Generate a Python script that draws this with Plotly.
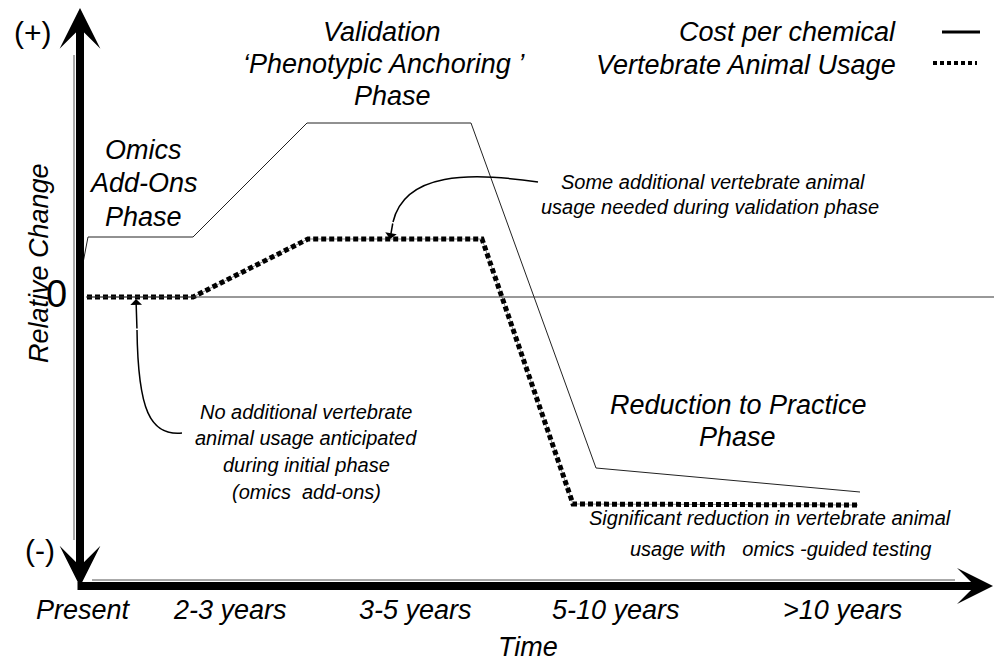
import plotly.graph_objects as go

# ---- data (x: horizontal position along time axis, y: relative change, 0 = baseline) ----
cost_x = [83, 88, 193, 307, 471, 596, 860]
cost_y = [34, 60, 60, 174, 174, -171, -195]
animal_x = [87, 193, 308, 482, 573, 858]
animal_y = [0, 0, 58, 58, -207, -208]
tick_labels = ["Present", "2-3 years", "3-5 years", "5-10 years", ">10 years"]
tick_pos = [83, 230, 415, 616, 842]
legend_names = ["Cost per chemical", "Vertebrate Animal Usage"]

FONT = "Liberation Sans, Arial, sans-serif"
Y0 = 297  # pixel row of the zero line (used to convert layout positions)


def py(p):
    return Y0 - p


fig = go.Figure()

# zero baseline
fig.add_shape(type="line", x0=86, x1=994, y0=0, y1=0, line=dict(color="#333", width=1))

# cost per chemical (thin solid)
fig.add_trace(go.Scatter(x=cost_x, y=cost_y, mode="lines", line=dict(color="#222", width=1),
                         name=legend_names[0], hoverinfo="skip"))
# vertebrate animal usage (dotted squares)
fig.add_trace(go.Scatter(x=animal_x, y=animal_y, mode="lines", line=dict(color="#888", width=1),
                         hoverinfo="skip", showlegend=False))
fig.add_trace(go.Scatter(x=animal_x, y=animal_y, mode="lines",
                         line=dict(color="black", width=5, dash="5px,3px"),
                         name=legend_names[1], hoverinfo="skip"))

ann = []


def txt(t, x, y, size=26, italic=True, xanchor="center", textangle=0):
    ann.append(dict(text=("<i>%s</i>" % t) if italic else t, x=x, y=py(y), xref="x", yref="y",
                    showarrow=False, xanchor=xanchor, yanchor="middle", textangle=textangle,
                    font=dict(family=FONT, size=size, color="black")))


# axes arrows
ann.append(dict(text="", x=80, y=py(8), ax=80, ay=py(588), xref="x", yref="y", axref="x", ayref="y",
                showarrow=True, arrowside="end+start", arrowhead=3, startarrowhead=3,
                arrowwidth=8, arrowsize=0.85, startarrowsize=0.85, arrowcolor="black"))
ann.append(dict(text="", x=993, y=py(586), ax=76, ay=py(586), xref="x", yref="y", axref="x", ayref="y",
                showarrow=True, arrowhead=3, arrowwidth=8, arrowsize=0.75, arrowcolor="black"))
fig.add_shape(type="line", x0=74, x1=74, y0=py(55), y1=py(540), line=dict(color="#555", width=1))
fig.add_shape(type="line", x0=92, x1=955, y0=py(580), y1=py(580), line=dict(color="#555", width=1))

# axis texts
txt("(+)", 33, 32, size=30, italic=False)
txt("(-)", 40, 550, size=30, italic=False)
txt("0", 56, 294, size=38, italic=False)
txt("Relative Change", 39, 263, size=27, textangle=-90)
txt("Time", 528, 647, size=27)
for lab, xp in zip(tick_labels, tick_pos):
    txt(lab, xp, 610, size=27)

# phase titles
for t, y in zip(["Omics", "Add-Ons", "Phase"], [150, 183, 217]):
    txt(t, 143, y, size=27)
txt("Validation", 382, 32, size=27)
txt("\u2018Phenotypic Anchoring \u2019", 384, 64, size=27)
txt("Phase", 392, 96, size=27)
txt("Reduction to Practice", 738, 405, size=27)
txt("Phase", 737, 437, size=27)

# notes
txt("Some additional vertebrate animal", 713, 182, size=20)
txt("usage needed during validation phase", 710, 207, size=20)
for t, y in zip(["No additional vertebrate", "animal usage anticipated", "during initial phase",
                 "(omics  add-ons)"], [412, 438, 465, 492]):
    txt(t, 306, y, size=20)
txt("Significant reduction in vertebrate animal", 770, 518, size=20)
txt("usage with   omics -guided testing", 780, 549, size=20)

# legend
txt(legend_names[0], 898, 32, size=27, xanchor="right")
txt(legend_names[1], 898, 65, size=27, xanchor="right")
fig.add_shape(type="line", x0=942, x1=980, y0=py(32), y1=py(32), line=dict(color="black", width=3))
fig.add_shape(type="line", x0=933, x1=977, y0=py(63), y1=py(63), line=dict(color="black", width=4, dash="4px,3px"))

# callout arrows
fig.add_shape(type="path", path="M 538 %d C 470 %d, 405 %d, 393 %d" % (py(182), py(172), py(172), py(222)),
              line=dict(color="black", width=1.5))
ann.append(dict(text="", x=390, y=py(239), ax=393, ay=py(222), xref="x", yref="y", axref="x", ayref="y",
                showarrow=True, arrowhead=1, arrowwidth=1.5, arrowsize=1.3, arrowcolor="black"))
fig.add_shape(type="path", path="M 182 %d C 150 %d, 138 %d, 137 %d" % (py(433), py(436), py(410), py(330)),
              line=dict(color="black", width=1.5))
ann.append(dict(text="", x=136, y=py(299), ax=137, ay=py(330), xref="x", yref="y", axref="x", ayref="y",
                showarrow=True, arrowhead=1, arrowwidth=1.5, arrowsize=1.3, arrowcolor="black"))

fig.update_layout(
    width=994, height=663, margin=dict(l=0, r=0, t=0, b=0),
    paper_bgcolor="white", plot_bgcolor="white", showlegend=False,
    xaxis=dict(range=[0, 994], visible=False, fixedrange=True),
    yaxis=dict(range=[py(663), py(0)], visible=False, fixedrange=True),
    annotations=ann,
    font=dict(family=FONT),
)
fig.write_html("out.html", config={"displayModeBar": False},
               post_script="document.body.style.margin='0';document.body.style.overflow='hidden';")
